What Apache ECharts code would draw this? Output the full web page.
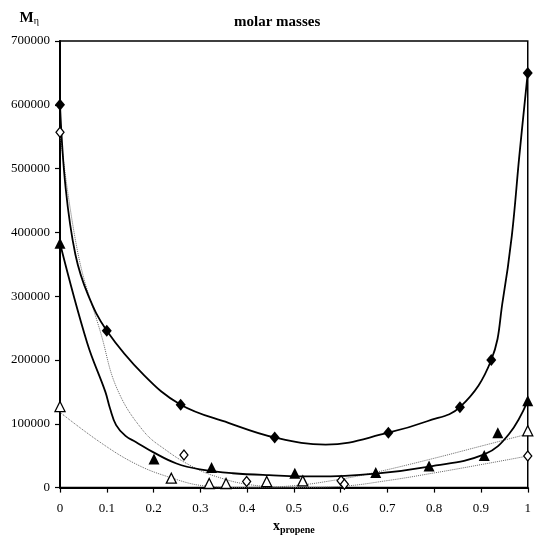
<!DOCTYPE html>
<html>
<head>
<meta charset="utf-8">
<script src="https://cdn.jsdelivr.net/npm/echarts@6/dist/echarts.min.js"></script>
<style>
    html, body { margin: 0; padding: 0; background: #fff; }
    #chart { width: 534px; height: 540px; }
</style>
</head>
<body>
<div id="chart"></div>
<script>
    // measured points
    const filledDiamonds = [[0, 600000], [0.1, 246000], [0.258, 130000], [0.459, 78600], [0.702, 86000], [0.855, 126000], [0.922, 200000], [1, 650000]];
    const openDiamonds = [[0, 557000], [0.265, 51000], [0.399, 9500], [0.601, 10600], [0.608, 5300], [1, 49500]];
    const filledTriangles = [[0, 383000], [0.201, 45000], [0.324, 31500], [0.502, 22500], [0.675, 23600], [0.789, 34000], [0.907, 50500], [0.936, 86000], [1, 136000]];
    const openTriangles = [[0, 127000], [0.238, 14700], [0.319, 6400], [0.355, 6400], [0.442, 9500], [0.519, 10600], [1, 89000]];

    // fitted curves
    const curveDiamonds = [[0, 600000], [0.012, 470000], [0.033, 365000], [0.06, 302000], [0.1, 246000], [0.18, 176000], [0.258, 130000], [0.36, 101600], [0.459, 78600], [0.568, 67400], [0.702, 86000], [0.785, 104000], [0.855, 126000], [0.922, 200000], [0.947, 295000], [0.966, 395000], [0.982, 520000], [1, 650000]];
    const curveTriangles = [[0, 383000], [0.058, 227000], [0.097, 150000], [0.107, 124000], [0.12, 98000], [0.14, 81000], [0.162, 71500], [0.199, 55600], [0.249, 37800], [0.299, 28600], [0.369, 22500], [0.447, 19500], [0.55, 17500], [0.675, 22000], [0.789, 33000], [0.907, 52000], [0.96, 84000], [1, 136000]];
    const trendOpenDiamonds = [[0, 557000], [0.039, 365000], [0.088, 240000], [0.122, 155000], [0.178, 89000], [0.228, 58000], [0.284, 32600], [0.334, 17300], [0.405, 4600], [0.5, 300], [0.6, 2000], [0.7, 11000], [0.8, 23000], [0.9, 36000], [1, 49500]];
    const trendOpenTriangles = [[0, 118000], [0.086, 71000], [0.163, 36700], [0.236, 15800], [0.308, 2800], [0.4, 0], [0.5, 3000], [0.59, 12000], [0.675, 24000], [0.8, 46000], [0.9, 65000], [1, 84000]];

    const xTicks = [0, 0.1, 0.2, 0.3, 0.4, 0.5, 0.6, 0.7, 0.8, 0.9, 1];
    const yMax = 700000;

    const serif = 'Liberation Serif';

    function curve(data, solid) {
        return {
            type: 'line', data: data, showSymbol: false, smooth: 0.4,
            lineStyle: solid ? {color: '#000', width: 1.8} : {color: '#666', width: 1, type: 'dotted'},
            z: 2
        };
    }

    function marks(data, symbol, size, filled) {
        return {
            type: 'scatter', data: data, symbol: symbol, symbolSize: size,
            itemStyle: filled ? {color: '#000', opacity: 1} : {color: '#fff', borderColor: '#000', borderWidth: 1.3, opacity: 1},
            z: 5
        };
    }

    let myChart = echarts.init(document.getElementById('chart'));
    myChart.setOption({
        animation: false,
        textStyle: {fontFamily: serif},
        title: {
            text: 'molar masses', left: 229, top: 10,
            textStyle: {fontFamily: serif, fontWeight: 'bold', fontSize: 15, color: '#000'}
        },
        grid: {left: 60, right: 4, top: 41, bottom: 42, show: true, borderColor: '#000', borderWidth: 1.5},
        xAxis: {
            type: 'value', min: 0, max: 1, interval: 0.1,
            name: '{x|x}{s|propene}', nameLocation: 'middle', nameGap: 27,
            nameTextStyle: {
                rich: {
                    x: {fontFamily: serif, fontWeight: 'bold', fontSize: 14, color: '#000'},
                    s: {fontFamily: serif, fontWeight: 'bold', fontSize: 10, color: '#000', padding: [7, 0, 0, 0]}
                }
            },
            axisLine: {lineStyle: {color: '#000', width: 2}},
            axisTick: {show: true, length: 5, lineStyle: {color: '#000', width: 1.2}},
            axisLabel: {
                fontFamily: serif, fontSize: 13, color: '#000', margin: 14,
                customValues: xTicks,
                formatter: v => String(+v.toFixed(1))
            },
            splitLine: {show: false}
        },
        yAxis: {
            type: 'value', min: 0, max: yMax, interval: 100000,
            name: '{m|M}{s|η}', nameLocation: 'end', nameGap: 15,
            nameTextStyle: {
                align: 'right', padding: [0, 21, 0, 0],
                rich: {
                    m: {fontFamily: serif, fontWeight: 'bold', fontSize: 15, color: '#000'},
                    s: {fontFamily: serif, fontSize: 10, color: '#000', padding: [6, 0, 0, 0]}
                }
            },
            axisLine: {show: true, lineStyle: {color: '#000', width: 2}},
            axisTick: {show: true, length: 5, lineStyle: {color: '#000', width: 1.2}},
            axisLabel: {fontFamily: serif, fontSize: 13, color: '#000', margin: 10, formatter: v => String(v)},
            splitLine: {show: false}
        },
        series: [
            curve(trendOpenDiamonds, false),
            curve(trendOpenTriangles, false),
            curve(curveDiamonds, true),
            curve(curveTriangles, true),
            marks(filledDiamonds, 'diamond', [10, 12], true),
            marks(openDiamonds, 'diamond', [8, 10], false),
            marks(filledTriangles, 'triangle', [11, 11], true),
            marks(openTriangles, 'triangle', [10, 10], false)
        ]
    });
</script>
</body>
</html>
